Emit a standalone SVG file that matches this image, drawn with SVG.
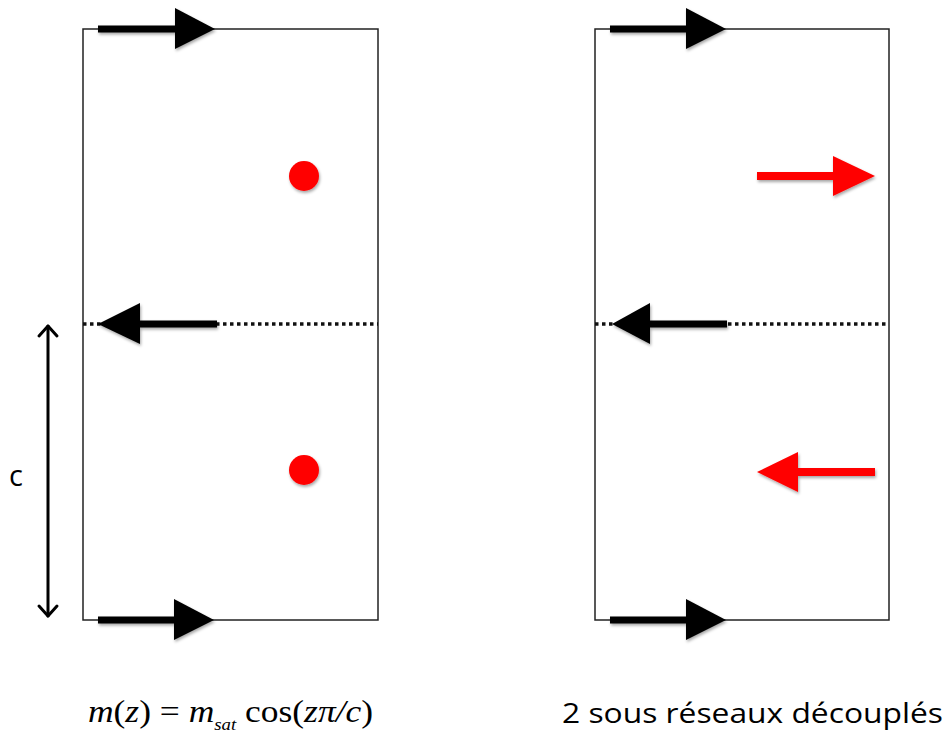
<svg xmlns="http://www.w3.org/2000/svg" width="950" height="738" viewBox="0 0 950 738">
<style>
.box{fill:none;stroke:#222;stroke-width:1.5}
.dot{stroke:#111;stroke-width:3.5;stroke-dasharray:3.5 3.5;fill:none}
.sh{stroke:#000;stroke-width:7;fill:none}
.hd{fill:#000}
.rsh{stroke:#f00;stroke-width:8;fill:none}
.rhd{fill:#f00}
.dim{stroke:#000;stroke-width:3;fill:none;stroke-linecap:round;stroke-linejoin:round}
.up{font-style:normal}
</style>
<defs>
<filter id="s" x="-20%" y="-20%" width="140%" height="140%">
<feDropShadow dx="1" dy="2" stdDeviation="1.5" flood-color="#000" flood-opacity="0.35"/>
</filter>
</defs>
<rect width="950" height="738" fill="#fff"/>
<g id="box-left"><rect class="box" x="83" y="29" width="295" height="591"/></g>
<g id="box-right"><rect class="box" x="595" y="29" width="294" height="591"/></g>
<g id="connectors">
<line class="dot" x1="83" y1="324" x2="378" y2="324"/>
<line class="dot" x1="595" y1="324" x2="889" y2="324"/>
<g filter="url(#s)">
<line class="sh" x1="98" y1="29" x2="177" y2="29"/><polygon class="hd" points="175,8 215,29 175,49"/>
<line class="sh" x1="98" y1="620" x2="176" y2="620"/><polygon class="hd" points="174,599 214,620 174,640"/>
<line class="sh" x1="138" y1="324" x2="217" y2="324"/><polygon class="hd" points="98,324 140,303 140,344"/>
<line class="sh" x1="610" y1="29" x2="688" y2="29"/><polygon class="hd" points="686,8 726,29 686,49"/>
<line class="sh" x1="610" y1="620" x2="688" y2="620"/><polygon class="hd" points="686,599 726,620 686,640"/>
<line class="sh" x1="648" y1="324" x2="727" y2="324"/><polygon class="hd" points="612,324 650,303 650,344"/>
<line class="rsh" x1="757" y1="176" x2="835" y2="176"/><polygon class="rhd" points="833,156 875,176 833,196"/>
<line class="rsh" x1="796" y1="472" x2="875" y2="472"/><polygon class="rhd" points="757,472 798,452 798,492"/>
</g>
<g id="dim-c">
<line class="dim" x1="48" y1="326" x2="48" y2="616"/>
<polyline class="dim" points="39,336 48,326 57,336"/>
<polyline class="dim" points="39,606 48,616 57,606"/>
</g>
</g>
<g id="dot-top"><circle cx="304" cy="176" r="15" fill="#f00" filter="url(#s)"/></g>
<g id="dot-bottom"><circle cx="304" cy="470" r="15" fill="#f00" filter="url(#s)"/></g>
<text x="9" y="486" font-family="Open Sans, Liberation Sans, sans-serif" font-size="29">c</text>
<text x="88" y="722" font-family="Liberation Serif, serif" font-size="32" font-style="italic" textLength="285" lengthAdjust="spacingAndGlyphs">m<tspan class="up">(</tspan>z<tspan class="up">) = </tspan>m<tspan font-size="17" dy="8">sat</tspan><tspan dy="-8" class="up"> cos(</tspan>zπ/c<tspan class="up">)</tspan></text>
<text x="562" y="723" font-family="Open Sans, Liberation Sans, sans-serif" font-size="28" textLength="381" lengthAdjust="spacingAndGlyphs">2 sous réseaux découplés</text>
</svg>
